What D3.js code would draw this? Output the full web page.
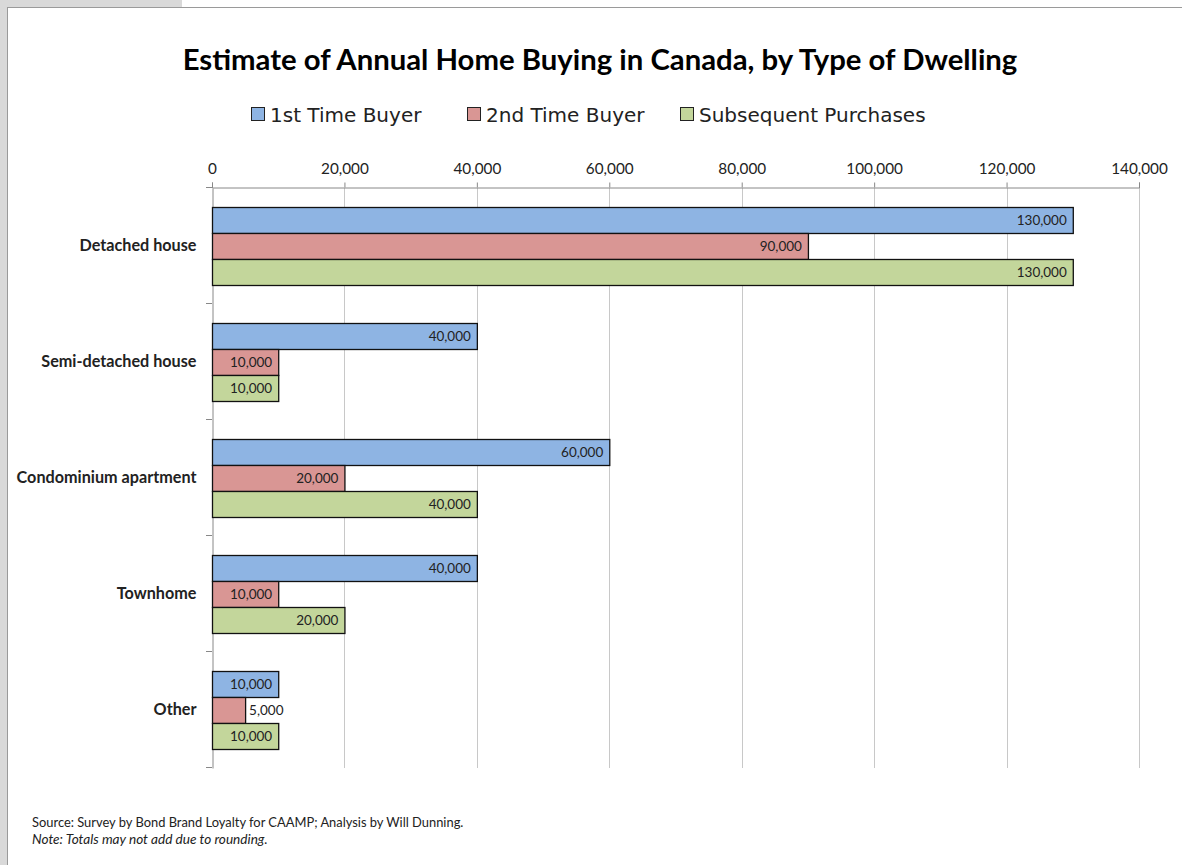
<!DOCTYPE html>
<html>
<head>
<meta charset="utf-8">
<script src="https://cdn.jsdelivr.net/npm/d3@7"></script>
<style>
  html, body { margin: 0; padding: 0; background: #fff; }
  svg { display: block; }
</style>
</head>
<body>
<svg id="chart" width="1182" height="865"></svg>
<script>
// Dwelling types and buyer groups
const categories = ["Detached house", "Semi-detached house", "Condominium apartment", "Townhome", "Other"];
const seriesNames = ["1st Time Buyer", "2nd Time Buyer", "Subsequent Purchases"];
const firstTime  = [130000, 40000, 60000, 40000, 10000];
const secondTime = [90000, 10000, 20000, 10000, 5000];
const subsequent = [130000, 10000, 40000, 20000, 10000];
const tickValues = [0, 20000, 40000, 60000, 80000, 100000, 120000, 140000];
const seriesColors = ["#8EB4E3", "#D99694", "#C3D69B"];

const seriesValues = [firstTime, secondTime, subsequent];
const fmt = d3.format(",");

const svg = d3.select("#chart");
const W = 1182, H = 865;

// Page background and sheet frame
svg.append("rect").attr("width", W).attr("height", H).attr("fill", "#fff");
svg.append("rect").attr("x", 0).attr("y", 0).attr("width", 182).attr("height", 7).attr("fill", "#d9d9d9");
svg.append("rect").attr("x", 0).attr("y", 0).attr("width", 7).attr("height", H).attr("fill", "#d9d9d9");
svg.append("line").attr("x1", 7).attr("x2", W).attr("y1", 7.5).attr("y2", 7.5).attr("stroke", "#9a9a9a");
svg.append("line").attr("x1", 7.5).attr("x2", 7.5).attr("y1", 7).attr("y2", H).attr("stroke", "#9a9a9a");

const plot = { left: 212, right: 1139, top: 188, bottom: 768 };

const x = d3.scaleLinear().domain([0, 140000]).range([plot.left, plot.right]);
const y = d3.scaleBand().domain(categories).range([plot.top, plot.bottom]).paddingInner(0).paddingOuter(0);

const labelFont = "Lato, 'Open Sans', sans-serif";

// Title
svg.append("text")
  .attr("x", 600).attr("y", 70)
  .attr("text-anchor", "middle")
  .attr("font-family", labelFont)
  .attr("font-weight", "bold")
  .attr("font-size", 29.3)
  .attr("fill", "#000")
  .text("Estimate of Annual Home Buying in Canada, by Type of Dwelling");

// Legend
const legendItems = [
  { name: seriesNames[0], x: 251 },
  { name: seriesNames[1], x: 467 },
  { name: seriesNames[2], x: 680 }
];
const lg = svg.append("g").attr("font-family", "'DejaVu Sans', sans-serif").attr("font-size", 20);
legendItems.forEach((it, i) => {
  lg.append("rect").attr("x", it.x + 0.5).attr("y", 107.5).attr("width", 13).attr("height", 13)
    .attr("fill", seriesColors[i]).attr("stroke", "#222");
  lg.append("text").attr("x", it.x + 19).attr("y", 122).attr("fill", "#222").text(it.name);
});

// Vertical gridlines
svg.append("g")
  .selectAll("line")
  .data(tickValues.slice(1))
  .join("line")
  .attr("x1", d => Math.round(x(d)) + 0.5).attr("x2", d => Math.round(x(d)) + 0.5)
  .attr("y1", plot.top).attr("y2", plot.bottom)
  .attr("stroke", "#c8c8c8");

// Top value axis
const xAxis = svg.append("g")
  .attr("transform", `translate(0,${plot.top - 0.5})`)
  .call(d3.axisTop(x).tickValues(tickValues).tickFormat(fmt).tickSize(5).tickPadding(9));
xAxis.select(".domain").attr("stroke", "#888");
xAxis.selectAll(".tick line").attr("stroke", "#888");
xAxis.selectAll(".tick text")
  .attr("font-family", labelFont)
  .attr("font-size", 15.3)
  .attr("fill", "#222");

// Left category axis
const yAxis = svg.append("g")
  .attr("transform", `translate(${plot.left + 0.5},0)`)
  .call(d3.axisLeft(y).tickSize(0).tickPadding(16));
yAxis.select(".domain").attr("stroke", "#888");
yAxis.selectAll(".tick text")
  .attr("font-family", labelFont)
  .attr("font-weight", "bold")
  .attr("font-size", 16.2)
  .attr("fill", "#222");
// Category boundary ticks
svg.append("g")
  .selectAll("line")
  .data(d3.range(categories.length + 1))
  .join("line")
  .attr("x1", plot.left - 6).attr("x2", plot.left)
  .attr("y1", i => plot.top + i * y.step() - 0.5).attr("y2", i => plot.top + i * y.step() - 0.5)
  .attr("stroke", "#888");

// Bars
const barH = 26;
const offset = (y.bandwidth() - barH * 3) / 2;
const rows = [];
categories.forEach((c, ci) => {
  seriesNames.forEach((s, si) => {
    rows.push({ cat: c, series: si, value: seriesValues[si][ci] });
  });
});

svg.append("g")
  .selectAll("rect")
  .data(rows)
  .join("rect")
  .attr("x", x(0) + 0.5)
  .attr("y", d => y(d.cat) + offset + d.series * barH + 0.5)
  .attr("width", d => x(d.value) - x(0))
  .attr("height", barH)
  .attr("fill", d => seriesColors[d.series])
  .attr("stroke", "#111")
  .attr("stroke-width", 1.3);

// Value labels: inside the bar end, or just outside when the bar is too short
svg.append("g")
  .selectAll("text")
  .data(rows)
  .join("text")
  .attr("font-family", labelFont)
  .attr("font-size", 13.5)
  .attr("fill", "#222")
  .attr("y", d => y(d.cat) + offset + d.series * barH + barH / 2 + 5)
  .each(function (d) {
    const w = x(d.value) - x(0);
    const t = d3.select(this);
    if (w > 60) {
      t.attr("x", x(d.value) - 6).attr("text-anchor", "end");
    } else {
      t.attr("x", x(d.value) + 4).attr("text-anchor", "start");
    }
  })
  .text(d => fmt(d.value));

// Footnotes
const foot = svg.append("g").attr("font-family", labelFont).attr("fill", "#222");
foot.append("text").attr("x", 32).attr("y", 827).attr("font-size", 12.9)
  .text("Source: Survey by Bond Brand Loyalty for CAAMP; Analysis by Will Dunning.");
foot.append("text").attr("x", 32).attr("y", 844).attr("font-size", 13.6).attr("font-style", "italic")
  .text("Note: Totals may not add due to rounding.");
</script>
</body>
</html>
